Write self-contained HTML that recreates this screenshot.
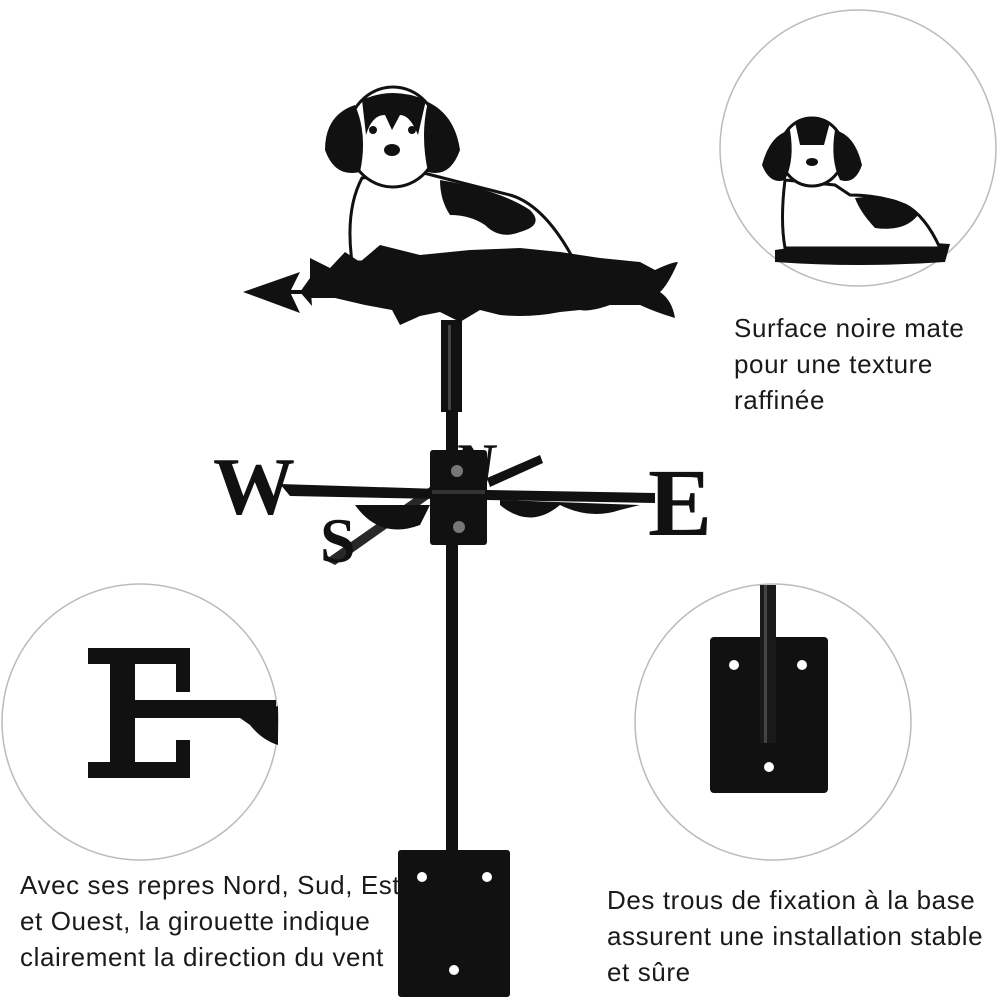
<!DOCTYPE html>
<html><head><meta charset="utf-8"><style>
html,body{margin:0;padding:0;background:#fff;width:1000px;height:1000px;overflow:hidden}
.t{position:absolute;font-family:"Liberation Sans",sans-serif;font-size:26px;letter-spacing:0.6px;color:#1a1a1a;line-height:36px;white-space:nowrap}
</style></head><body>
<svg width="1000" height="1000" style="position:absolute;left:0;top:0">
<circle cx="858" cy="148" r="138" fill="#fff" stroke="#bbb" stroke-width="1.5"/>
<circle cx="140" cy="722" r="138" fill="#fff" stroke="#bbb" stroke-width="1.5"/>
<circle cx="773" cy="722" r="138" fill="#fff" stroke="#bbb" stroke-width="1.5"/>

<!-- small dog -->
<g>
 <path d="M775 250 Q850 238 950 244 L945 262 Q860 268 775 262Z" fill="#111"/>
 <path d="M785 180 Q780 220 785 248 L940 248 Q925 215 905 205 Q880 195 850 195 L835 185Z" fill="#fff" stroke="#111" stroke-width="3"/>
 <path d="M855 198 Q900 192 918 215 Q905 232 875 228 Q860 212 855 198Z" fill="#111"/>
 <ellipse cx="812" cy="152" rx="32" ry="34" fill="#fff" stroke="#111" stroke-width="3"/>
 <path d="M790 130 Q770 135 762 165 Q770 185 785 180 Q795 160 790 130Z" fill="#111"/>
 <path d="M835 130 Q855 135 862 165 Q855 185 840 180 Q830 160 835 130Z" fill="#111"/>
 <path d="M795 122 Q812 112 830 122 L824 145 L800 145Z" fill="#111"/>
 <ellipse cx="812" cy="162" rx="6" ry="4" fill="#111"/>
</g>

<!-- E in left circle -->
<g fill="#111">
 <path d="M88 648 H190 V692 H176 V664 H135 V700 H276 V718 H135 V762 H176 V740 H190 V778 H88 V762 H110 V664 H88Z"/>
 <path d="M240 718 L278 706 L278 745 Q262 740 250 725Z"/>
</g>

<!-- right circle plate -->
<rect x="710" y="637" width="118" height="156" rx="4" fill="#111"/>
<rect x="760" y="585" width="16" height="158" fill="#1a1a1a"/>
<rect x="764" y="585" width="3" height="158" fill="#444"/>
<circle cx="734" cy="665" r="5" fill="#fff"/><circle cx="802" cy="665" r="5" fill="#fff"/><circle cx="769" cy="767" r="5" fill="#fff"/>

<!-- main pole -->
<rect x="446" y="400" width="12" height="455" fill="#111"/>
<rect x="441" y="320" width="21" height="92" fill="#111"/>
<rect x="448" y="325" width="3" height="85" fill="#444"/>
<rect x="398" y="850" width="112" height="147" rx="3" fill="#111"/>
<circle cx="422" cy="877" r="5" fill="#fff"/><circle cx="487" cy="877" r="5" fill="#fff"/><circle cx="454" cy="970" r="5" fill="#fff"/>

<!-- main dog -->
<g>
 <path d="M352 262 Q345 210 362 178 L420 172 Q470 185 510 195 Q545 205 575 262Z" fill="#fff" stroke="#111" stroke-width="3"/>
 <path d="M440 180 Q500 190 530 210 Q545 225 520 232 Q500 240 485 225 Q470 215 450 215 Q440 200 440 180Z" fill="#111"/>
 <ellipse cx="393" cy="137" rx="46" ry="50" fill="#fff" stroke="#111" stroke-width="3"/>
 <path d="M355 105 Q325 115 325 150 Q335 178 360 172 Q368 135 355 105Z" fill="#111"/>
 <path d="M428 102 Q455 115 460 150 Q450 178 428 172 Q420 135 428 102Z" fill="#111"/>
 <path d="M362 100 Q392 86 426 100 L418 135 Q410 115 400 115 L392 130 L385 115 Q372 115 366 135Z" fill="#111"/>
 <ellipse cx="392" cy="150" rx="8" ry="6" fill="#111"/>
 <circle cx="373" cy="130" r="4" fill="#111"/><circle cx="412" cy="130" r="4" fill="#111"/>
</g>
<g fill="#111">
 <path d="M310 258 L330 268 L345 252 L360 262 L380 245 L420 255 L470 250 L520 248 L560 252 L600 258 L640 262 L655 270 Q672 262 678 262 Q668 285 660 292 Q672 300 675 318 Q655 312 640 305 L610 305 Q590 312 580 310 L560 312 Q530 318 500 315 L480 310 L460 322 L440 312 L420 316 L400 325 L392 310 L365 305 L335 298 L310 298Z"/>
 <rect x="270" y="290" width="70" height="4"/>
 <path d="M243 292 L300 272 L290 292 L300 313Z"/>
 <path d="M300 292 L310 278 L312 306Z"/>
</g>

<!-- compass -->
<g fill="#111">
 <path d="M280 484 L440 489 L440 499 L290 496Z"/>
 <path d="M487 490 L655 493 L655 503 L487 500Z"/>
 <path d="M325 560 L440 480 L444 488 L335 565Z" opacity=".9"/>
 <path d="M487 478 L540 455 L543 463 L490 487Z"/>
 <path d="M500 505 Q530 530 560 505 Q590 520 620 510 L640 505 L500 500Z"/>
 <path d="M355 505 Q380 540 420 525 L430 505Z"/>
 <text x="213" y="514" font-family="Liberation Serif,serif" font-weight="bold" font-size="82">W</text>
 <text x="648" y="535" font-family="Liberation Serif,serif" font-weight="bold" font-size="96">E</text>
 <text x="520" y="482" font-family="Liberation Serif,serif" font-weight="bold" font-size="56" transform="skewX(-8)">N</text>
 <text x="320" y="562" font-family="Liberation Serif,serif" font-weight="bold" font-size="64">S</text>
 <rect x="430" y="450" width="57" height="95" rx="3"/>
 <rect x="432" y="490" width="53" height="4" fill="#333"/>
 <circle cx="457" cy="471" r="6" fill="#777"/><circle cx="459" cy="527" r="6" fill="#777"/>
</g>
</svg>
<div class="t" style="left:734px;top:310px">Surface noire mate<br>pour une texture<br>raffinée</div>
<div class="t" style="left:20px;top:867px">Avec ses repres Nord, Sud, Est<br>et Ouest, la girouette indique<br>clairement la direction du vent</div>
<div class="t" style="left:607px;top:882px">Des trous de fixation à la base<br>assurent une installation stable<br>et sûre</div>
</body></html>
